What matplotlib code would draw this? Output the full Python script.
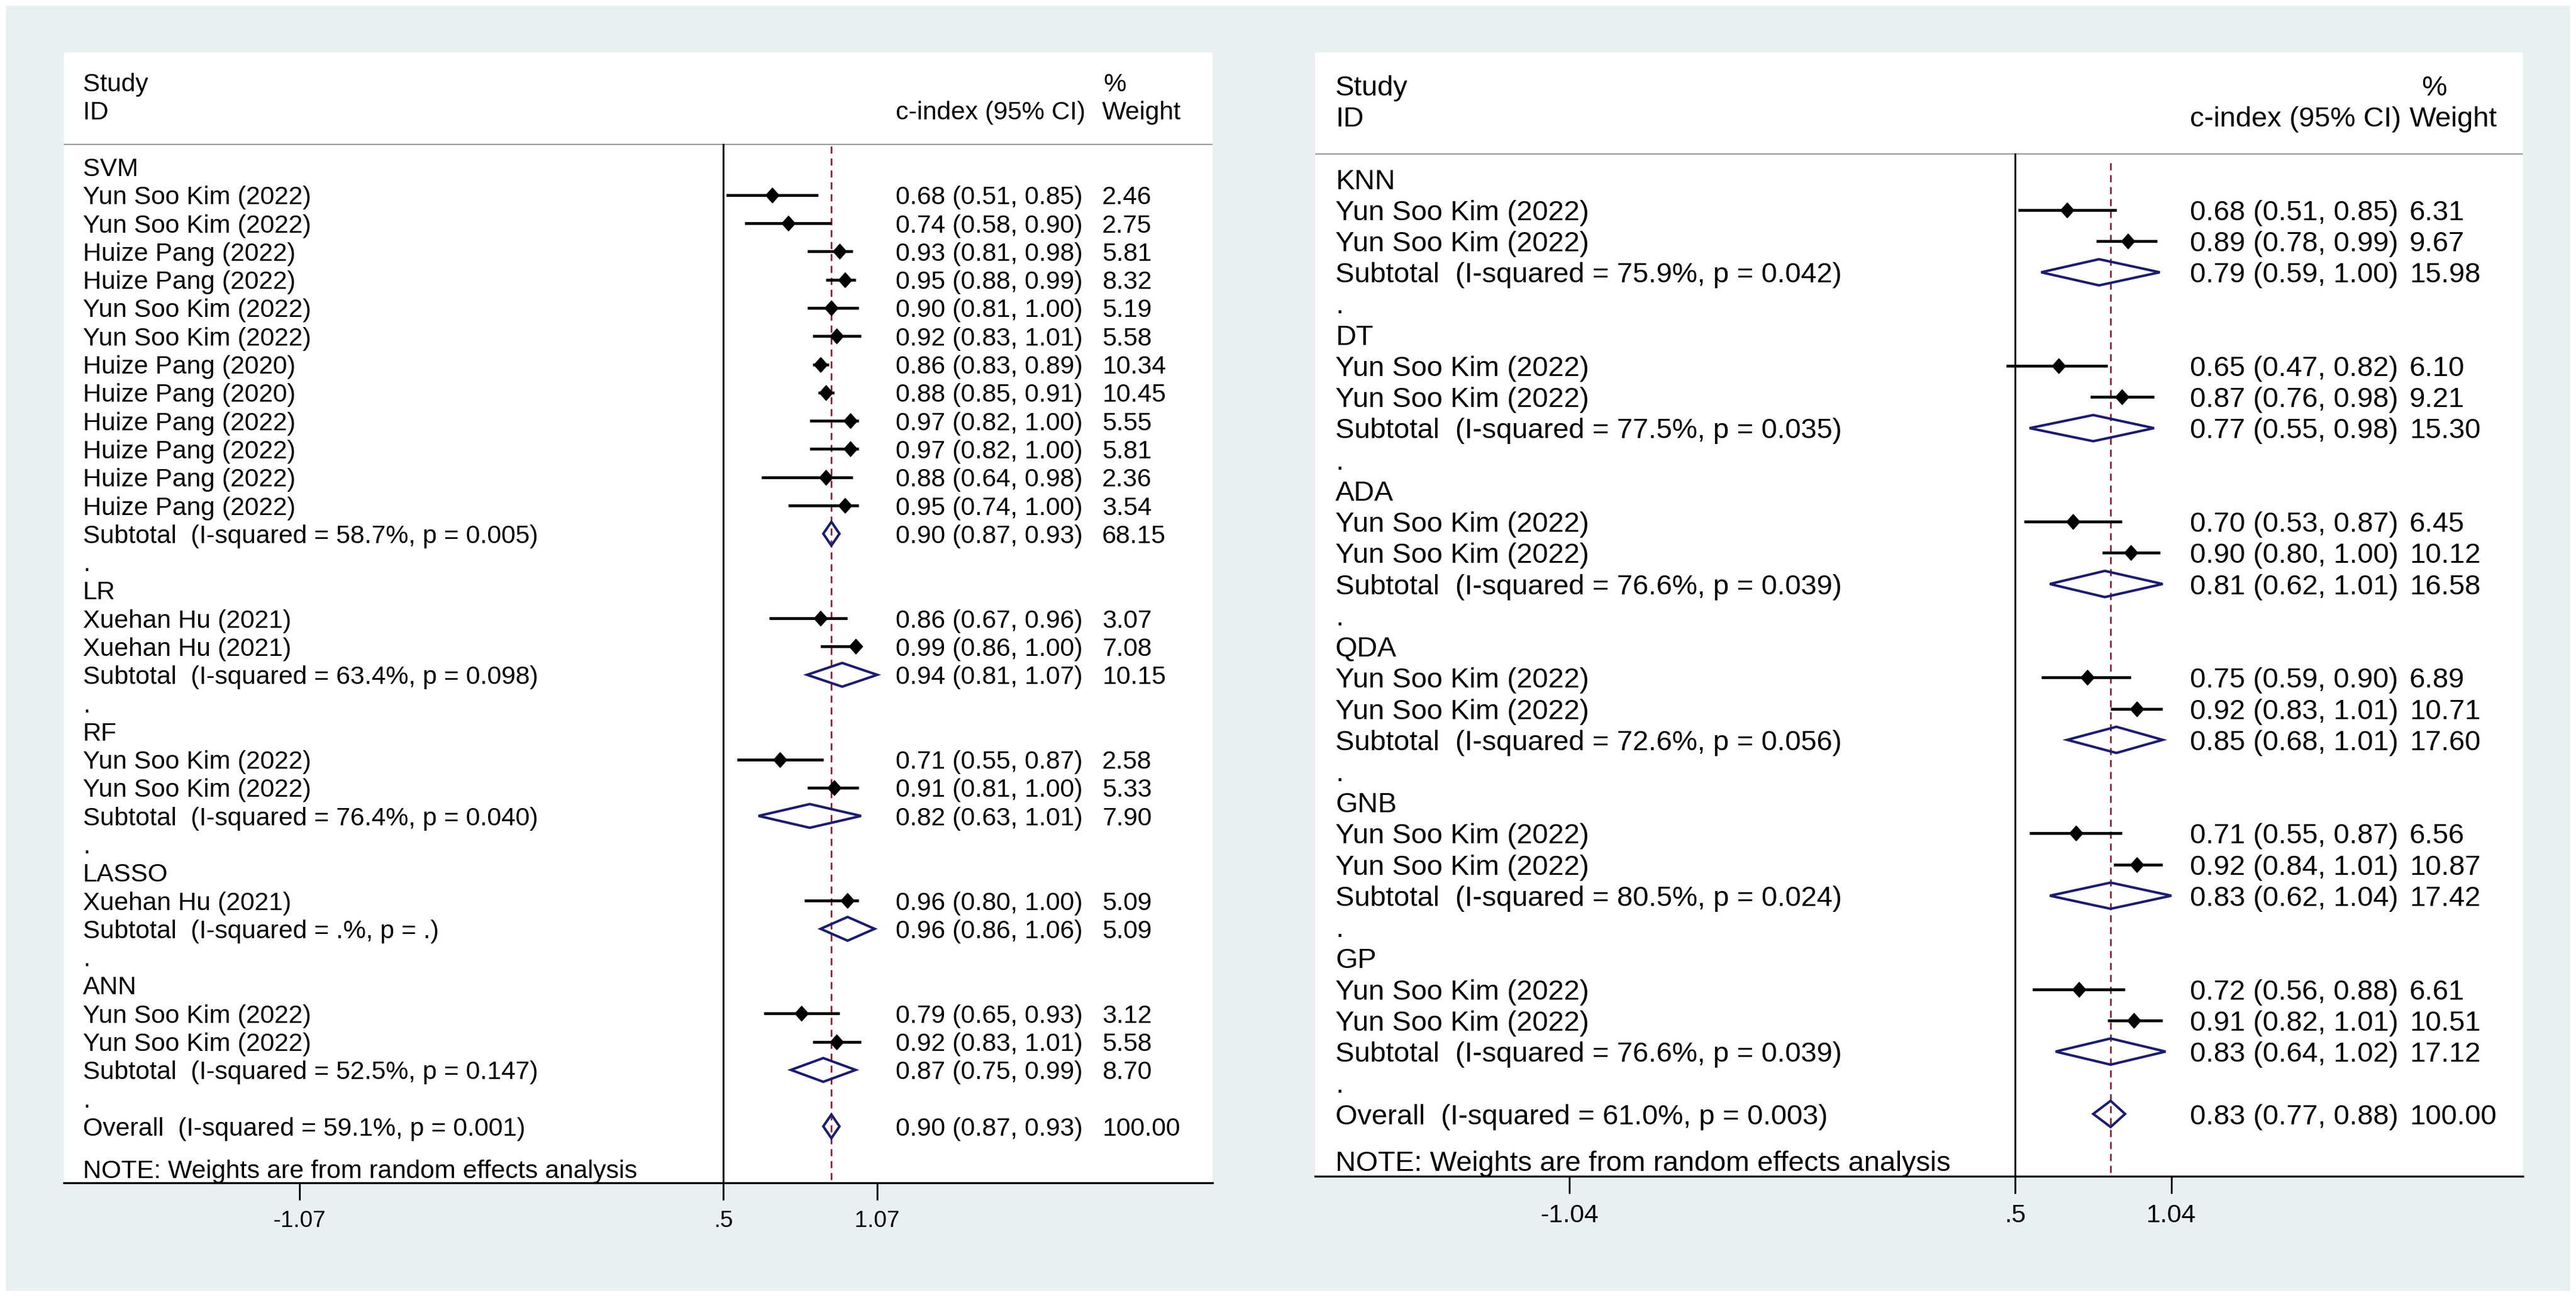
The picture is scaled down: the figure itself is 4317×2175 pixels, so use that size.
import matplotlib.pyplot as plt
from matplotlib.path import Path
from matplotlib.patches import Polygon, Rectangle

plt.rcParams["font.family"] = ["Liberation Sans", "DejaVu Sans"]

W, H, DPI = 4317, 2175, 100

# ---------------- left panel data ----------------
left_groups = ["SVM", "LR", "RF", "LASSO", "ANN"]
left_study_group = [0] * 12 + [1, 1] + [2, 2] + [3] + [4, 4]
left_study_names = [
    "Yun Soo Kim (2022)", "Yun Soo Kim (2022)", "Huize Pang (2022)", "Huize Pang (2022)",
    "Yun Soo Kim (2022)", "Yun Soo Kim (2022)", "Huize Pang (2020)", "Huize Pang (2020)",
    "Huize Pang (2022)", "Huize Pang (2022)", "Huize Pang (2022)", "Huize Pang (2022)",
    "Xuehan Hu (2021)", "Xuehan Hu (2021)",
    "Yun Soo Kim (2022)", "Yun Soo Kim (2022)",
    "Xuehan Hu (2021)",
    "Yun Soo Kim (2022)", "Yun Soo Kim (2022)",
]
left_est = [0.68, 0.74, 0.93, 0.95, 0.90, 0.92, 0.86, 0.88, 0.97, 0.97, 0.88, 0.95,
            0.86, 0.99, 0.71, 0.91, 0.96, 0.79, 0.92]
left_lo = [0.51, 0.58, 0.81, 0.88, 0.81, 0.83, 0.83, 0.85, 0.82, 0.82, 0.64, 0.74,
           0.67, 0.86, 0.55, 0.81, 0.80, 0.65, 0.83]
left_hi = [0.85, 0.90, 0.98, 0.99, 1.00, 1.01, 0.89, 0.91, 1.00, 1.00, 0.98, 1.00,
           0.96, 1.00, 0.87, 1.00, 1.00, 0.93, 1.01]
left_weight = [2.46, 2.75, 5.81, 8.32, 5.19, 5.58, 10.34, 10.45, 5.55, 5.81, 2.36, 3.54,
               3.07, 7.08, 2.58, 5.33, 5.09, 3.12, 5.58]
left_sub_het = ["58.7%, p = 0.005", "63.4%, p = 0.098", "76.4%, p = 0.040",
                ".%, p = .", "52.5%, p = 0.147"]
left_sub_est = [0.90, 0.94, 0.82, 0.96, 0.87]
left_sub_lo = [0.87, 0.81, 0.63, 0.86, 0.75]
left_sub_hi = [0.93, 1.07, 1.01, 1.06, 0.99]
left_sub_weight = [68.15, 10.15, 7.90, 5.09, 8.70]
left_overall_het = "59.1%, p = 0.001"
left_overall = [0.90, 0.87, 0.93, 100.00]
left_ticks = [-1.07, 0.5, 1.07]
left_ticklabels = ["-1.07", ".5", "1.07"]

# ---------------- right panel data ----------------
right_groups = ["KNN", "DT", "ADA", "QDA", "GNB", "GP"]
right_study_group = [0, 0, 1, 1, 2, 2, 3, 3, 4, 4, 5, 5]
right_study_names = ["Yun Soo Kim (2022)"] * 12
right_est = [0.68, 0.89, 0.65, 0.87, 0.70, 0.90, 0.75, 0.92, 0.71, 0.92, 0.72, 0.91]
right_lo = [0.51, 0.78, 0.47, 0.76, 0.53, 0.80, 0.59, 0.83, 0.55, 0.84, 0.56, 0.82]
right_hi = [0.85, 0.99, 0.82, 0.98, 0.87, 1.00, 0.90, 1.01, 0.87, 1.01, 0.88, 1.01]
right_weight = [6.31, 9.67, 6.10, 9.21, 6.45, 10.12, 6.89, 10.71, 6.56, 10.87, 6.61, 10.51]
right_sub_het = ["75.9%, p = 0.042", "77.5%, p = 0.035", "76.6%, p = 0.039",
                 "72.6%, p = 0.056", "80.5%, p = 0.024", "76.6%, p = 0.039"]
right_sub_est = [0.79, 0.77, 0.81, 0.85, 0.83, 0.83]
right_sub_lo = [0.59, 0.55, 0.62, 0.68, 0.62, 0.64]
right_sub_hi = [1.00, 0.98, 1.01, 1.01, 1.04, 1.02]
right_sub_weight = [15.98, 15.30, 16.58, 17.60, 17.42, 17.12]
right_overall_het = "61.0%, p = 0.003"
right_overall = [0.83, 0.77, 0.88, 100.00]
right_ticks = [-1.04, 0.5, 1.04]
right_ticklabels = ["-1.04", ".5", "1.04"]

NAVY = "#1c1c6e"
RED = "#8b2232"
BG = "#e9f0f2"

# diamond used for the study points
DIAMOND = Path([(0, 1), (0.9, 0), (0, -1), (-0.9, 0), (0, 1)],
               [Path.MOVETO, Path.LINETO, Path.LINETO, Path.LINETO, Path.CLOSEPOLY])


def ci_text(e, lo, hi):
    return f"{e:.2f} ({lo:.2f}, {hi:.2f})"


def draw_panel(ax, groups, study_group, names, est, lo, hi, weight,
               sub_het, sub_est, sub_lo, sub_hi, sub_weight, overall_het, overall,
               ticks, ticklabels, lay):
    fs = lay["fs"]
    x_lab, x_est, x_wt = lay["x_lab"], lay["x_est"], lay["x_wt"]
    row = 0
    for g, gname in enumerate(groups):
        ax.text(x_lab, row, gname, fontsize=fs, va="center_baseline")
        row += 1
        for i in range(len(est)):
            if study_group[i] != g:
                continue
            ax.text(x_lab, row, names[i], fontsize=fs, va="center_baseline")
            ax.plot([lo[i], hi[i]], [row, row], color="black", lw=3.4,
                    solid_capstyle="butt", zorder=3)
            ax.plot(est[i], row, marker=DIAMOND, ms=18, color="black", zorder=4)
            ax.text(x_est, row, ci_text(est[i], lo[i], hi[i]), fontsize=fs,
                    va="center_baseline")
            ax.text(x_wt, row, f"{weight[i]:.2f}", fontsize=fs, va="center_baseline")
            row += 1
        ax.text(x_lab, row, f"Subtotal  (I-squared = {sub_het[g]})", fontsize=fs,
                va="center_baseline")
        ax.add_patch(Polygon([(sub_lo[g], row), (sub_est[g], row - 0.42),
                              (sub_hi[g], row), (sub_est[g], row + 0.42)],
                             closed=True, fill=False, ec=NAVY, lw=3.0, zorder=4))
        ax.text(x_est, row, ci_text(sub_est[g], sub_lo[g], sub_hi[g]), fontsize=fs,
                va="center_baseline")
        ax.text(x_wt, row, f"{sub_weight[g]:.2f}", fontsize=fs, va="center_baseline")
        row += 1
        ax.text(x_lab, row, ".", fontsize=fs, va="center_baseline")
        row += 1

    oe, olo, ohi, ow = overall
    ax.text(x_lab, row, f"Overall  (I-squared = {overall_het})", fontsize=fs,
            va="center_baseline")
    ax.add_patch(Polygon([(olo, row), (oe, row - 0.42), (ohi, row), (oe, row + 0.42)],
                         closed=True, fill=False, ec=NAVY, lw=3.0, zorder=4))
    ax.text(x_est, row, ci_text(oe, olo, ohi), fontsize=fs, va="center_baseline")
    ax.text(x_wt, row, f"{ow:.2f}", fontsize=fs, va="center_baseline")
    ax.text(x_lab, row + 1.5, "NOTE: Weights are from random effects analysis",
            fontsize=fs, va="center_baseline")

    bottom = row + 2
    ax.set_xlim(lay["xlim"])
    ax.set_ylim(bottom, -4.05)

    # header
    ax.text(x_lab, -3, "Study", fontsize=fs, va="center_baseline")
    ax.text(x_lab, -2, "ID", fontsize=fs, va="center_baseline")
    ax.text(lay["x_pct"], -3, "%", fontsize=fs, va="center_baseline")
    ax.text(x_est, -2, "c-index (95% CI)", fontsize=fs, va="center_baseline")
    ax.text(x_wt, -2, "Weight", fontsize=fs, va="center_baseline")
    ax.axhline(-0.8, color="#9a9a9a", lw=1.6)

    # null line and overall line
    ax.plot([0.5, 0.5], [-0.8, bottom], color="black", lw=2.2, zorder=2)
    ax.plot([oe, oe], [lay["dash_top"], bottom], color=RED, lw=2.0,
            dashes=(4.3, 2.9), zorder=1)

    ax.set_xticks(ticks)
    ax.set_xticklabels(ticklabels)
    ax.set_yticks([])
    for s in ["top", "left", "right"]:
        ax.spines[s].set_visible(False)
    ax.spines["bottom"].set_linewidth(2.4)
    ax.tick_params(axis="x", direction="out", length=21, width=2.2, pad=12,
                   labelsize=lay["tick_fs"])


def px_rect(x0, x1, y0, y1):
    return [x0 / W, (H - y1) / H, (x1 - x0) / W, (y1 - y0) / H]


fig = plt.figure(figsize=(W / DPI, H / DPI), dpi=DPI, facecolor="white")
fig.patches.append(Rectangle((10 / W, (H - 2162) / H), (4306 - 10) / W, (2162 - 10) / H,
                             transform=fig.transFigure, color=BG, zorder=-10))

ax_l = fig.add_axes(px_rect(107, 2032, 88, 1982))
ax_r = fig.add_axes(px_rect(2204, 4228, 88, 1971))

left_layout = dict(fs=30.8, tick_fs=28, xlim=(-1.9415, 2.311), x_lab=-1.871,
                   x_est=1.1385, x_wt=1.903, x_pct=1.907, dash_top=-0.72)
right_layout = dict(fs=34.2, tick_fs=31, xlim=(-1.9186, 2.2546), x_lab=-1.848,
                    x_est=1.104, x_wt=1.863, x_pct=1.904, dash_top=-0.5)

draw_panel(ax_l, left_groups, left_study_group, left_study_names, left_est, left_lo,
           left_hi, left_weight, left_sub_het, left_sub_est, left_sub_lo, left_sub_hi,
           left_sub_weight, left_overall_het, left_overall, left_ticks,
           left_ticklabels, left_layout)
draw_panel(ax_r, right_groups, right_study_group, right_study_names, right_est, right_lo,
           right_hi, right_weight, right_sub_het, right_sub_est, right_sub_lo,
           right_sub_hi, right_sub_weight, right_overall_het, right_overall,
           right_ticks, right_ticklabels, right_layout)

fig.savefig("out.png", dpi=DPI)
